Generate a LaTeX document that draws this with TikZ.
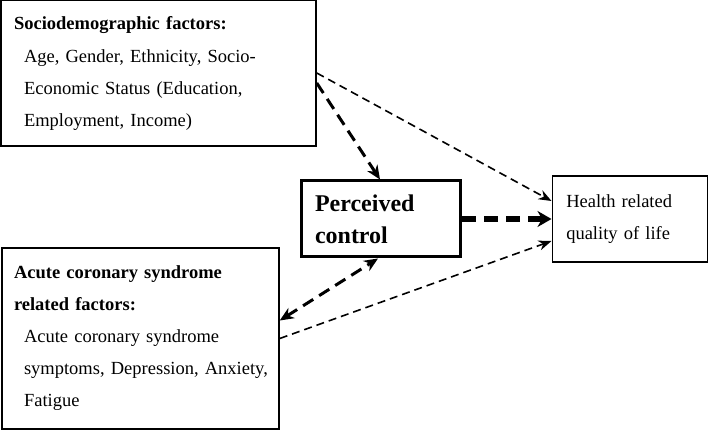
\documentclass[tikz,border=0pt]{standalone}
\usepackage{fontspec}
\setmainfont{Liberation Serif}
\usetikzlibrary{positioning,arrows.meta}
\tikzset{
  factorbox/.style={rectangle,draw,line width=1.5pt,align=left,inner ysep=0pt,
    font=\fontsize{18.5}{32}\selectfont},
  thindash/.style={line width=1.6pt,dash pattern=on 8pt off 5pt,-{Stealth[length=13pt,width=10pt]}},
  thickdash/.style={line width=3pt,dash pattern=on 12pt off 7pt,-{Stealth[length=14pt,width=12pt]}},
  heavydash/.style={line width=6pt,dash pattern=on 14pt off 8pt,-{Stealth[length=14pt,width=16pt]}}
}
\newcommand{\ind}[1]{\mbox{\hspace*{10pt}#1}}
\begin{document}
\begin{tikzpicture}[x=1pt,y=-1pt]
    \useasboundingbox (0,0) rectangle (709,430);

    % Factor boxes
    \node[factorbox,inner xsep=13pt,text width=289pt,minimum height=146pt] (socio) at (158.5,73)
      {\textbf{Sociodemographic factors:}\\[1pt]
       \ind{Age, Gender, Ethnicity, Socio-}\\
       \ind{Economic Status (Education,}\\
       \ind{Employment, Income)}};
    \node[factorbox,inner xsep=12pt,text width=253pt,minimum height=181pt] (acs) at (140.5,338.5)
      {\textbf{Acute coronary syndrome}\\
       \textbf{related factors:}\\
       \ind{Acute coronary syndrome}\\
       \ind{symptoms, Depression, Anxiety,}\\
       \ind{Fatigue}};

    % Mediator and outcome
    \node[factorbox,line width=3pt,inner xsep=13.5pt,text width=132pt,minimum height=76pt,
      font=\fontsize{24}{32}\selectfont\bfseries] (control) at (381,219)
      {Perceived\\control};
    \node[factorbox,inner xsep=14pt,text width=127pt,minimum height=86pt,
      right=89.5pt of control] (hrql)
      {Health related\\quality of life};

    % Paths
    \draw[thindash] (socio.east) -- ([yshift=18pt]hrql.west);
    \draw[thickdash] ([yshift=-10pt]socio.east) -- ([xshift=-1pt]control.north);
    \draw[heavydash] (control.east) -- (hrql.west);
    \draw[thindash] (acs.east) -- ([yshift=-22pt]hrql.west);
    \draw[thickdash,{Stealth[length=14pt,width=12pt]}-{Stealth[length=14pt,width=12pt]}]
      ([yshift=18pt]acs.east) -- ([xshift=-3pt]control.south);
\end{tikzpicture}
\end{document}
